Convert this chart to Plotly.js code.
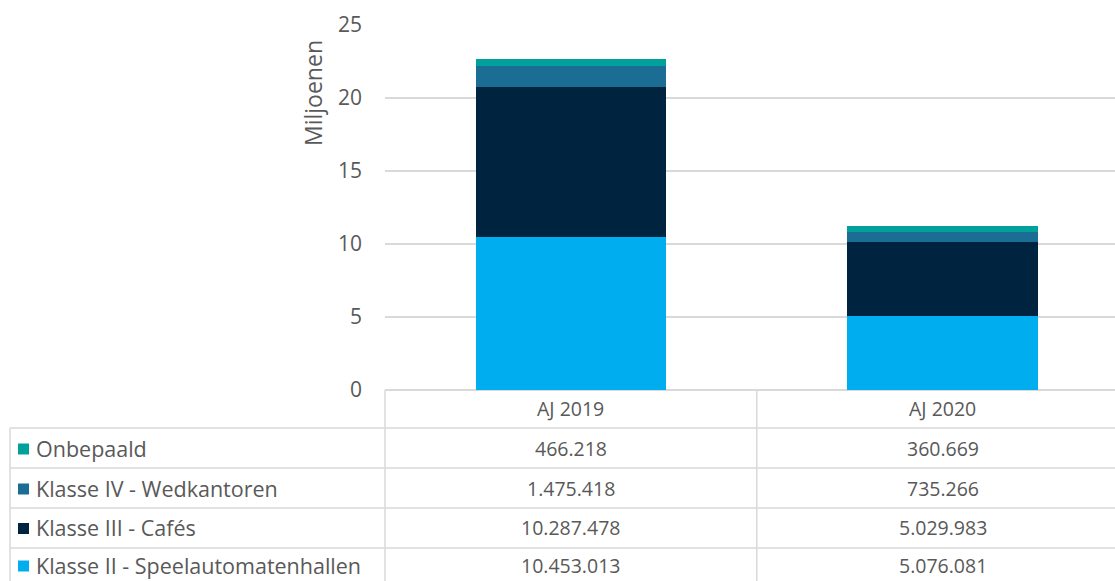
<!DOCTYPE html>
<html><head><meta charset="utf-8">
<script src="https://cdn.plot.ly/plotly-3.0.1.min.js"></script>
<style>html,body{margin:0;padding:0;background:#fff}#c{width:1115px;height:581px}</style>
</head><body><div id="c"></div>
<script>
const categories = ['AJ 2019', 'AJ 2020'];
const seriesNames = ['Klasse II - Speelautomatenhallen', 'Klasse III - Cafés', 'Klasse IV - Wedkantoren', 'Onbepaald'];
const speelautomatenhallen = [10453013, 5076081];
const cafes = [10287478, 5029983];
const wedkantoren = [1475418, 735266];
const onbepaald = [466218, 360669];
const seriesColors = ['#00AEEF', '#00233F', '#1B6D93', '#00A19A'];
const yTicks = [0, 5, 10, 15, 20, 25];

const seriesValues = [speelautomatenhallen, cafes, wedkantoren, onbepaald];
const W = 1115, H = 581, L = 385, T = 25, B = 390;
const px = x => (x - L) / (W - L);
const py = y => (B - y) / (B - T);
const fmt = n => String(n).replace(/\B(?=(\d{3})+(?!\d))/g, '.');
const txt = '#595959', grid = '#D9D9D9';
const font = 'Open Sans, sans-serif';

const traces = seriesNames.map((n, i) => ({
  type: 'bar', name: n, x: categories,
  y: seriesValues[i].map(v => v / 1e6),
  marker: {color: seriesColors[i], line: {width: 0}},
  hoverinfo: 'x+y+name'
}));

const shapes = [];
const annotations = [];
const rowOrder = [3, 2, 1, 0];
const rowTops = [428, 468, 508, 548, 588];
const rowCenters = [448, 488, 527.5, 565];
rowTops.slice(0, 4).forEach(y => shapes.push({type: 'line', xref: 'paper', yref: 'paper', x0: px(10), x1: 1, y0: py(y), y1: py(y), line: {color: grid, width: 1.5}}));
shapes.push({type: 'line', xref: 'paper', yref: 'paper', x0: px(10), x1: px(10), y0: py(428), y1: py(600), line: {color: grid, width: 1.5}});
shapes.push({type: 'line', xref: 'paper', yref: 'paper', x0: 0, x1: 0, y0: 0, y1: py(600), line: {color: grid, width: 1.5}});
shapes.push({type: 'line', xref: 'x', yref: 'paper', x0: 0.5, x1: 0.5, y0: 0, y1: py(600), line: {color: grid, width: 1.5}});
shapes.push({type: 'line', xref: 'x', yref: 'paper', x0: 1.5, x1: 1.5, y0: 0, y1: py(600), line: {color: grid, width: 1.5}});
categories.forEach((c, j) => annotations.push({xref: 'x', yref: 'paper', x: j, y: py(409), text: c, showarrow: false, xanchor: 'center', yanchor: 'middle', font: {family: font, size: 19.5, color: txt}}));
rowOrder.forEach((si, r) => {
  const yc = rowCenters[r];
  const ym = (rowTops[r] + Math.min(rowTops[r + 1], 581)) / 2;
  shapes.push({type: 'rect', xref: 'paper', yref: 'paper', x0: px(18), x1: px(29), y0: py(yc + 1 - 5.5), y1: py(yc + 1 + 5.5), fillcolor: seriesColors[si], line: {width: 0}});
  annotations.push({xref: 'paper', yref: 'paper', x: px(35), y: py(yc), text: seriesNames[si], showarrow: false, xanchor: 'left', yanchor: 'middle', borderpad: 0, font: {family: font, size: 21.5, color: txt}});
  categories.forEach((c, j) => annotations.push({xref: 'x', yref: 'paper', x: j, y: py(yc), text: fmt(seriesValues[si][j]), showarrow: false, xanchor: 'center', yanchor: 'middle', borderpad: 0, font: {family: font, size: 19.5, color: txt}}));
});
annotations.push({xref: 'paper', yref: 'paper', x: px(313), y: py(93), text: 'Miljoenen', textangle: -90, showarrow: false, xanchor: 'center', yanchor: 'middle', font: {family: font, size: 23, color: txt}});

const layout = {
  width: W, height: H,
  margin: {l: L, r: 0, t: T, b: H - B, pad: 0},
  barmode: 'stack', bargap: 0.487,
  showlegend: false,
  paper_bgcolor: '#fff', plot_bgcolor: '#fff',
  xaxis: {range: [-0.5, 1.4637], showticklabels: false, showgrid: false, zeroline: false, showline: false, ticks: '', fixedrange: true},
  yaxis: {range: [0, 25], tickvals: yTicks, ticktext: yTicks.map(String), showgrid: true, gridcolor: grid, gridwidth: 1.5, zeroline: true, zerolinecolor: grid, zerolinewidth: 1.5, showline: false, ticks: '', ticklabelstandoff: 22, tickfont: {family: font, size: 21, color: txt}},
  shapes, annotations,
  font: {family: font, color: txt}
};
Plotly.newPlot('c', traces, layout, {displayModeBar: false, staticPlot: true});
</script></body></html>
